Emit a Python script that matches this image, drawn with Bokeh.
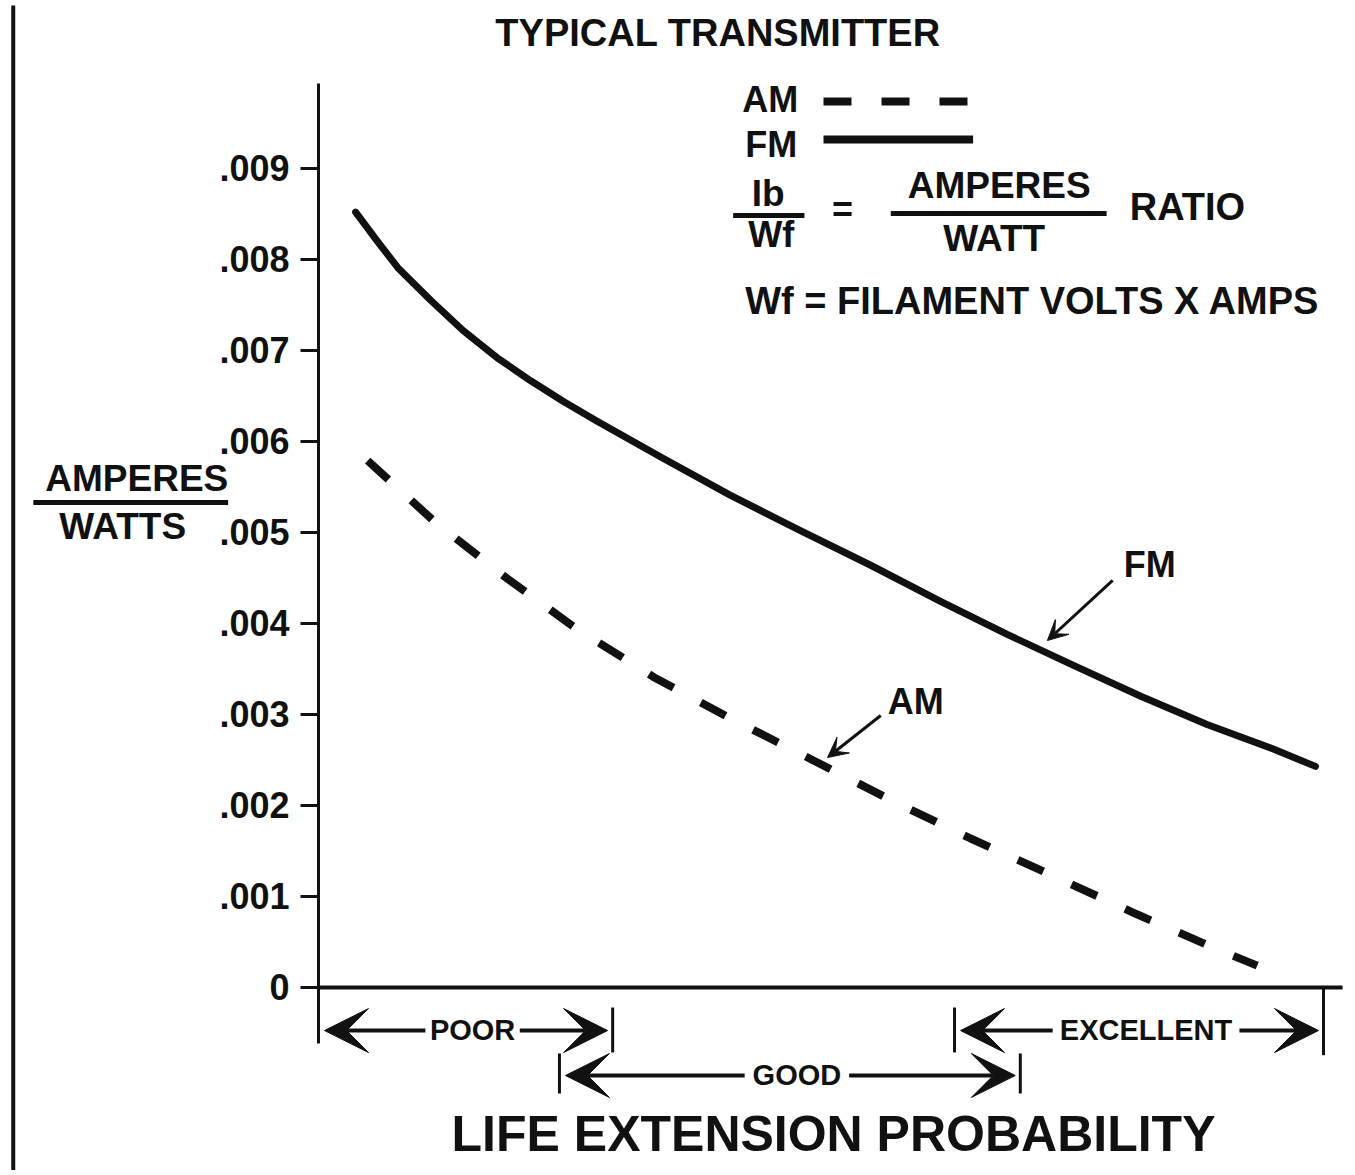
from bokeh.plotting import figure
from bokeh.models import (Range1d, LinearAxis, FixedTicker, CustomJSTickFormatter,
                          Label, Arrow, VeeHead)
from bokeh.embed import file_html
from bokeh.resources import INLINE

# ---------------- data ----------------
# x: position along the life-extension scale (0..100), y: amperes per watt
fm_x = [3.7, 5.8, 7.9, 11.2, 14.4, 17.8, 21.1, 24.4, 27.8, 34.4, 41.0, 48.0, 55.0,
        62.0, 68.6, 75.2, 81.9, 88.5, 95.1, 99.3]
fm_y = [0.00852, 0.00821, 0.00791, 0.00755, 0.00722, 0.00692, 0.00667, 0.00644,
        0.00622, 0.00581, 0.00541, 0.00502, 0.00464, 0.00424, 0.00388, 0.00354,
        0.00320, 0.00289, 0.00262, 0.00243]

am_x = [4.9, 11.45, 18.6, 25.6, 33.4, 41.0, 49.2, 57.0, 64.9, 73.1, 81.4, 89.3, 93.5]
am_y = [0.00579, 0.00513, 0.00451, 0.00395, 0.00341, 0.00296, 0.00250, 0.00206,
        0.00164, 0.00123, 0.00081, 0.00043, 0.00024]

y_ticks = [0, 0.001, 0.002, 0.003, 0.004, 0.005, 0.006, 0.007, 0.008, 0.009]

zone_names = ["POOR", "GOOD", "EXCELLENT"]
zone_start = [0.0, 24.0, 63.35]
zone_end = [29.3, 69.9, 100.1]
zone_row = [0, 1, 0]

INK = "#111111"
FONT = "Liberation Sans"
PX_PER_Y = 91000.0  # screen pixels per unit of y (used only for text baseline nudges)

p = figure(width=1345, height=1170,
           x_range=Range1d(-31.67, 102.29), y_range=Range1d(-0.002011, 0.010846),
           x_axis_type=None, y_axis_type=None,
           toolbar_location=None, output_backend="svg",
           min_border=0)
p.outline_line_color = None
p.background_fill_color = "white"
p.border_fill_color = "white"

# y axis, fixed at x = 0 inside the frame
yaxis = LinearAxis(
    fixed_location=0,
    ticker=FixedTicker(ticks=y_ticks),
    formatter=CustomJSTickFormatter(code="return tick == 0 ? '0' : tick.toFixed(3).replace(/^0/, '');"),
    bounds=(-0.000615, 0.009934),
    axis_line_width=3, axis_line_color=INK,
    major_tick_line_width=3, major_tick_line_color=INK,
    major_tick_out=18, major_tick_in=0,
    minor_tick_out=0, minor_tick_in=0,
    major_label_standoff=11,
    major_label_text_font=FONT, major_label_text_font_style="bold",
    major_label_text_font_size="36px", major_label_text_color=INK,
)
p.add_layout(yaxis, "left")

# baseline (x axis line)
p.segment(x0=[0], y0=[0], x1=[102.0], y1=[0], line_width=4, line_color=INK)

# curves
p.line(fm_x, fm_y, line_width=7, line_color=INK, line_join="round", line_cap="round")
p.line(am_x, am_y, line_width=8, line_color=INK, line_dash="28 31", line_cap="butt")


def label(x, y, text, size, align="left", style="bold"):
    yy = y + 0.39 * size / PX_PER_Y
    p.add_layout(Label(x=x, y=yy, text=text, text_font=FONT, text_font_style=style,
                       text_font_size=f"{size}px", text_color=INK, text_align=align,
                       text_baseline="alphabetic"))


def rule(x0, y0, x1, y1, w):
    p.segment(x0=[x0], y0=[y0], x1=[x1], y1=[y1], line_width=w, line_color=INK)


def arrow(x0, y0, x1, y1, w, size):
    p.add_layout(Arrow(x_start=x0, y_start=y0, x_end=x1, y_end=y1,
                       end=VeeHead(size=size, fill_color=INK, line_color=INK),
                       line_width=w, line_color=INK))


# page border line on the left
rule(-30.4, 0.01079, -30.4, -0.00207, 4)

# title
label(39.8, 0.01033, "TYPICAL TRANSMITTER", 38, "center")

# y label (fraction)
label(-18.1, 0.00544, "AMPERES", 37, "center")
rule(-28.4, 0.00533, -9.0, 0.00533, 5)
label(-19.5, 0.00491, "WATTS", 37, "center")

# legend
label(42.2, 0.00960, "AM", 36)
label(42.5, 0.00911, "FM", 36)
p.line([50.3, 64.9], [0.009736, 0.009736], line_width=8, line_color=INK, line_dash="28 30", line_cap="butt")
p.line([50.3, 65.2], [0.009319, 0.009319], line_width=8, line_color=INK)

label(44.8, 0.00857, "Ib", 37, "center")
rule(41.3, 0.008484, 48.4, 0.008484, 5)
label(45.1, 0.00812, "Wf", 36, "center")
label(52.2, 0.00840, "=", 36, "center")
label(67.8, 0.00865, "AMPERES", 37, "center")
rule(57.0, 0.008505, 78.5, 0.008505, 5)
label(67.3, 0.00807, "WATT", 37, "center")
label(80.8, 0.00841, "RATIO", 38)
label(42.5, 0.007385, "Wf = FILAMENT VOLTS X AMPS", 38)

# callouts
label(80.2, 0.004495, "FM", 36)
arrow(79.1, 0.004473, 72.6, 0.003813, 3, 20)
label(56.7, 0.002989, "AM", 36)
arrow(56.0, 0.002989, 50.7, 0.002527, 3, 20)

# life extension zones
row_y = [-0.000473, -0.000967]
tick_span = [(-0.000220, -0.000714), (-0.000725, -0.001165)]
label_half = [4.7, 5.2, 9.3]
for name, s, e, r, h in zip(zone_names, zone_start, zone_end, zone_row, label_half):
    c = (s + e) / 2 + 0.7
    y = row_y[r]
    label(c, y - 0.00012, name, 29, "center")
    arrow(c - h, y, s + 0.6, y, 4, 44)
    arrow(c + h, y, e - 0.5, y, 4, 44)
    t0, t1 = tick_span[r]
    if s > 0:
        rule(s, t0, s, t1, 3)
    top = 0 if e >= 100 else t0
    rule(e, top, e, t1 - (0.00003 if e >= 100 else 0), 3)

label(51.3, -0.001824, "LIFE EXTENSION PROBABILITY", 50, "center")

open("out.html", "w").write(file_html(p, INLINE))
